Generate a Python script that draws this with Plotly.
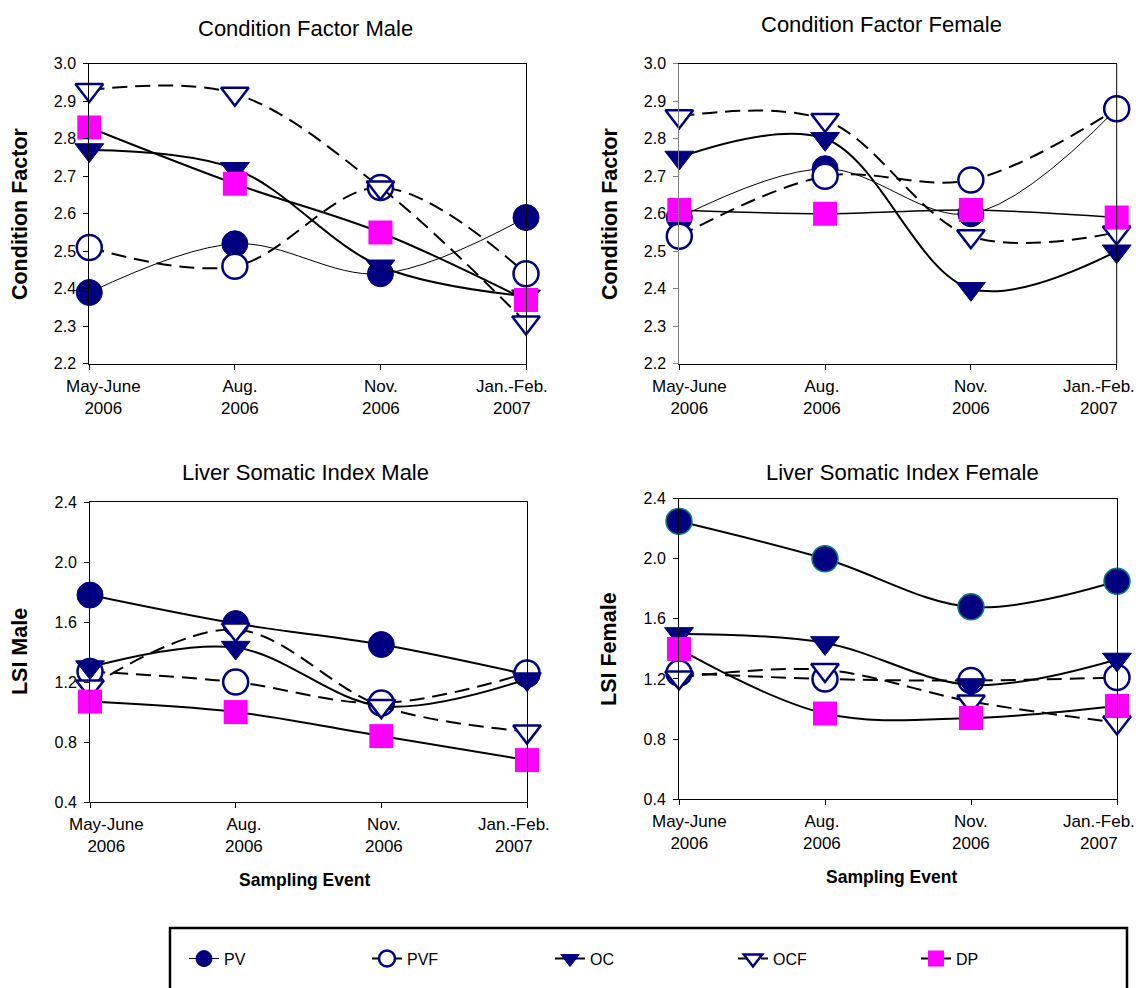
import plotly.graph_objects as go

# ---------------- data ----------------
categories = ["May-June<br>2006", "Aug.<br>2006", "Nov.<br>2006", "Jan.-Feb.<br>2007"]
series_names = ["PV", "PVF", "OC", "OCF", "DP"]

cf_male_PV = [2.39, 2.52, 2.44, 2.59]
cf_male_PVF = [2.51, 2.46, 2.67, 2.44]
cf_male_OC = [2.77, 2.72, 2.46, 2.38]
cf_male_OCF = [2.93, 2.92, 2.67, 2.31]
cf_male_DP = [2.83, 2.68, 2.55, 2.37]

cf_female_PV = [2.59, 2.72, 2.60, 2.88]
cf_female_PVF = [2.54, 2.70, 2.69, 2.88]
cf_female_OC = [2.75, 2.80, 2.40, 2.50]
cf_female_OCF = [2.86, 2.85, 2.54, 2.55]
cf_female_DP = [2.61, 2.60, 2.61, 2.59]

lsi_male_PV = [1.78, 1.59, 1.45, 1.25]
lsi_male_PVF = [1.27, 1.20, 1.06, 1.26]
lsi_male_OC = [1.30, 1.43, 1.04, 1.22]
lsi_male_OCF = [1.17, 1.55, 1.04, 0.87]
lsi_male_DP = [1.07, 1.00, 0.84, 0.68]

lsi_female_PV = [2.25, 2.00, 1.68, 1.85]
lsi_female_PVF = [1.24, 1.20, 1.19, 1.21]
lsi_female_OC = [1.50, 1.44, 1.16, 1.33]
lsi_female_OCF = [1.21, 1.26, 1.05, 0.91]
lsi_female_DP = [1.40, 0.97, 0.94, 1.02]

panel_titles = ["Condition Factor Male", "Condition Factor Female",
                "Liver Somatic Index Male", "Liver Somatic Index Female"]
y_titles = ["Condition Factor", "Condition Factor", "LSI Male", "LSI Female"]
cf_ticks = [2.2, 2.3, 2.4, 2.5, 2.6, 2.7, 2.8, 2.9, 3.0]
lsi_ticks = [0.4, 0.8, 1.2, 1.6, 2.0, 2.4]

panel_data = [
    [cf_male_PV, cf_male_PVF, cf_male_OC, cf_male_OCF, cf_male_DP],
    [cf_female_PV, cf_female_PVF, cf_female_OC, cf_female_OCF, cf_female_DP],
    [lsi_male_PV, lsi_male_PVF, lsi_male_OC, lsi_male_OCF, lsi_male_DP],
    [lsi_female_PV, lsi_female_PVF, lsi_female_OC, lsi_female_OCF, lsi_female_DP],
]

# ---------------- styling ----------------
W, H = 1143, 988
NAVY = "#000080"
MAGENTA = "#FF00FF"
FONT = "Arial, Liberation Sans, sans-serif"

# plot areas in pixels: (left, right, top, bottom)
areas = [(89.3, 526, 56.7, 362), (679.3, 1116.7, 56.7, 362),
         (90, 527, 502.7, 808), (679, 1117, 499.3, 805)]
title_pos = [(305, 20.5), (881, 16.5), (305, 473), (902, 473)]
label_shifts = [[14, 5, 1, -14], [10, -3, 0, -18], [16, 8, 3, -13], [10, -3, 0, -18]]

marker_styles = {
    "PV": dict(symbol="circle", size=26, color=NAVY, line=dict(color=NAVY, width=1)),
    "PVF": dict(symbol="circle", size=25, color="white", line=dict(color=NAVY, width=2.5)),
    "OC": dict(symbol="triangle-down", size=25, color=NAVY, line=dict(color=NAVY, width=1)),
    "OCF": dict(symbol="triangle-down", size=24, color="white", line=dict(color=NAVY, width=2.5)),
    "DP": dict(symbol="square", size=24, color=MAGENTA, line=dict(color=MAGENTA, width=0)),
}
line_dash = {"PV": "solid", "PVF": "15px,8px", "OC": "solid", "OCF": "15px,8px", "DP": "solid"}
line_width = [
    {"PV": 1, "PVF": 2, "OC": 2, "OCF": 2, "DP": 2},
    {"PV": 1, "PVF": 2, "OC": 2, "OCF": 2, "DP": 1.5},
    {"PV": 2, "PVF": 2, "OC": 2, "OCF": 2, "DP": 2},
    {"PV": 2, "PVF": 2, "OC": 2, "OCF": 2, "DP": 2},
]

fig = go.Figure()
xs = list(range(len(categories)))

for p in range(4):
    sfx = "" if p == 0 else str(p + 1)
    for name, vals in zip(series_names, panel_data[p]):
        m = dict(marker_styles[name])
        if p == 3 and name == "PV":
            m = dict(m, line=dict(color="#008080", width=1.5))
        fig.add_trace(go.Scatter(
            x=xs, y=vals, name=name, mode="lines+markers",
            xaxis="x" + sfx, yaxis="y" + sfx,
            line=dict(color="black", width=line_width[p][name], dash=line_dash[name],
                      shape="spline", smoothing=1.0),
            marker=m, cliponaxis=False, showlegend=(p == 0),
        ))

layout = dict(
    width=W, height=H, margin=dict(l=0, r=0, t=0, b=0),
    paper_bgcolor="white", plot_bgcolor="white",
    font=dict(family=FONT, color="black"),
    showlegend=True,
    legend=dict(orientation="h", x=184 / W, y=1 - 950 / H, xanchor="left", yanchor="top",
                font=dict(size=16, family=FONT), bgcolor="rgba(0,0,0,0)",
                borderwidth=0, entrywidth=138, entrywidthmode="pixels"),
)
annotations = []
shapes = []
for p in range(4):
    sfx = "" if p == 0 else str(p + 1)
    l, r, t, b = areas[p]
    is_cf = p < 2
    grey_axis = (p == 1)
    layout["xaxis" + sfx] = dict(
        domain=[l / W, r / W], range=[0, 3], anchor="y" + sfx,
        showline=True, linecolor="black", linewidth=1, mirror=True,
        ticks="outside", ticklen=5, tickcolor="black", tickvals=xs,
        showticklabels=False, showgrid=False, zeroline=False, fixedrange=True,
    )
    layout["yaxis" + sfx] = dict(
        domain=[1 - b / H, 1 - t / H], anchor="x" + sfx,
        range=[2.2, 3.0] if is_cf else [0.4, 2.4],
        tickvals=cf_ticks if is_cf else lsi_ticks, tickformat=".1f",
        showline=True, linecolor="#808080" if grey_axis else "black", linewidth=1,
        mirror=not grey_axis,
        ticks="outside", ticklen=5, tickcolor="#808080" if grey_axis else "black",
        tickfont=dict(size=16, family=FONT), ticklabelstandoff=4,
        showgrid=False, zeroline=False, fixedrange=True,
    )
    if grey_axis:
        shapes.append(dict(type="line", xref="x" + sfx + " domain", yref="y" + sfx + " domain",
                           x0=1, x1=1, y0=0, y1=1, line=dict(color="black", width=1)))
    # category labels
    for i, cat in enumerate(categories):
        annotations.append(dict(
            text=cat, x=i, y=0, xref="x" + sfx, yref="y" + sfx + " domain",
            xanchor="center", yanchor="top", yshift=-11, xshift=label_shifts[p][i],
            showarrow=False, font=dict(size=17, family=FONT), align="center"))
    # panel title
    tx, ty = title_pos[p]
    annotations.append(dict(text=panel_titles[p], x=tx / W, y=1 - ty / H, xref="paper", yref="paper",
                            xanchor="center", yanchor="middle", showarrow=False,
                            font=dict(size=22, family=FONT)))
    # y title
    annotations.append(dict(text="<b>" + y_titles[p] + "</b>", x=0, y=0.5,
                            xref="x" + sfx + " domain", yref="y" + sfx + " domain",
                            xanchor="center", yanchor="middle", xshift=-70, textangle=-90,
                            showarrow=False, font=dict(size=21.5, family=FONT)))
    if p >= 2:
        annotations.append(dict(text="<b>Sampling Event</b>", x=0.5, y=0,
                                xref="x" + sfx + " domain", yref="y" + sfx + " domain",
                                xanchor="center", yanchor="middle", yshift=-78,
                                xshift=-4 if p == 2 else -7,
                                showarrow=False, font=dict(size=17.5, family=FONT)))

shapes.append(dict(type="rect", xref="paper", yref="paper",
                   x0=170 / W, x1=1127 / W, y0=1 - 1000 / H, y1=1 - 936 / H,
                   line=dict(color="black", width=2.5), fillcolor="rgba(0,0,0,0)"))
layout["annotations"] = annotations
layout["shapes"] = shapes
fig.update_layout(**layout)
fig.write_html("out.html", config={"displayModeBar": False},
               post_script="document.body.style.margin='0';document.body.style.overflow='hidden';")
